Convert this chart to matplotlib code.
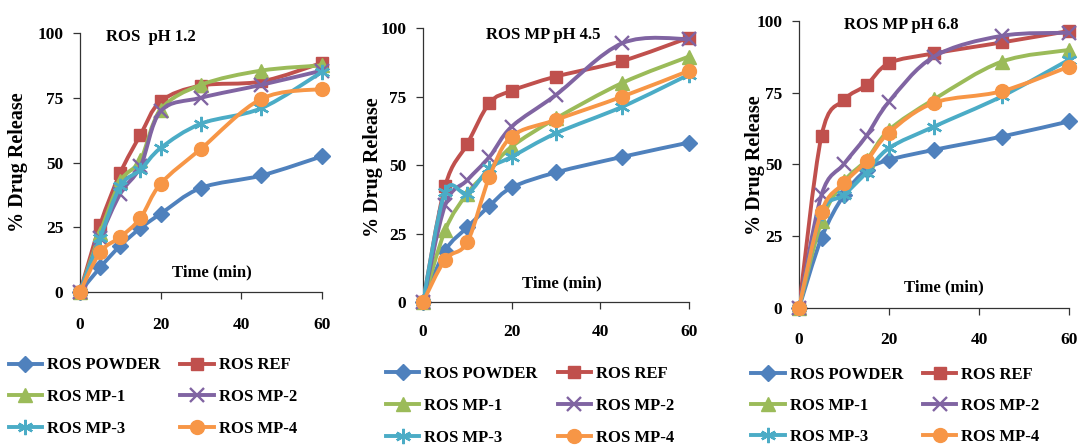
import numpy as np
import matplotlib.pyplot as plt
from matplotlib.path import Path
from matplotlib.patches import PathPatch
from matplotlib.lines import Line2D

plt.rcParams['font.family'] = ['Liberation Serif', 'DejaVu Serif']
plt.rcParams['font.weight'] = 'bold'

time_min = [0, 5, 10, 15, 20, 30, 45, 60]
series_names = ['ROS POWDER', 'ROS REF', 'ROS MP-1', 'ROS MP-2', 'ROS MP-3', 'ROS MP-4']

# pH 1.2
ph12_powder = [0, 9.5, 17.9, 24.7, 30.2, 40.2, 45.0, 52.4]
ph12_ref = [0, 26.0, 46.0, 60.7, 73.6, 79.7, 81.3, 88.5]
ph12_mp1 = [0, 22.8, 42.7, 51.0, 70.4, 80.0, 85.5, 87.5]
ph12_mp2 = [0, 21.0, 38.0, 48.5, 69.8, 75.0, 80.0, 85.5]
ph12_mp3 = [0, 21.0, 40.8, 47.2, 55.6, 65.0, 71.0, 85.0]
ph12_mp4 = [0, 15.4, 21.2, 28.6, 41.8, 55.3, 74.6, 78.4]

# pH 4.5
ph45_powder = [0, 18.7, 27.3, 35.1, 41.8, 47.3, 53.0, 58.2]
ph45_ref = [0, 42.3, 57.7, 72.6, 77.1, 82.3, 88.0, 96.5]
ph45_mp1 = [0, 26.2, 39.6, 48.2, 56.7, 67.0, 80.0, 89.6]
ph45_mp2 = [0, 35.4, 44.5, 53.0, 64.0, 75.6, 94.5, 96.0]
ph45_mp3 = [0, 40.2, 39.6, 48.8, 53.0, 61.6, 71.3, 83.0]
ph45_mp4 = [0, 15.5, 21.9, 45.7, 60.4, 66.5, 75.0, 84.4]

# pH 6.8
ph68_powder = [0, 24.4, 39.4, 48.1, 51.6, 55.1, 59.7, 65.0]
ph68_ref = [0, 60.0, 72.5, 77.7, 85.3, 88.7, 92.5, 96.5]
ph68_mp1 = [0, 30.2, 44.1, 51.6, 62.0, 72.7, 85.8, 89.9]
ph68_mp2 = [0, 39.4, 50.2, 60.0, 71.9, 87.6, 94.8, 95.9]
ph68_mp3 = [0, 33.0, 39.4, 47.2, 55.7, 63.2, 73.7, 86.5]
ph68_mp4 = [0, 33.6, 43.5, 51.2, 61.1, 71.5, 75.5, 84.1]

panel_titles = ['ROS  pH 1.2', 'ROS MP pH 4.5', 'ROS MP pH 6.8']
panel_data = [
    [ph12_powder, ph12_ref, ph12_mp1, ph12_mp2, ph12_mp3, ph12_mp4],
    [ph45_powder, ph45_ref, ph45_mp1, ph45_mp2, ph45_mp3, ph45_mp4],
    [ph68_powder, ph68_ref, ph68_mp1, ph68_mp2, ph68_mp3, ph68_mp4],
]

colors = ['#4F81BD', '#C0504D', '#9BBB59', '#8064A2', '#4BACC6', '#F79646']
markers = ['D', 's', '^', 'x', (6, 2, 0), 'o']
msizes = [8, 9, 9.5, 9.5, 11, 10]
mew = [1, 1, 1, 1.7, 1.7, 1]

axes_rects = [
    [0.0742, 0.3438, 0.2245, 0.582],
    [0.3924, 0.3213, 0.2467, 0.6157],
    [0.7412, 0.3079, 0.2505, 0.645],
]
title_pos = [(0.107, 0.985), (0.237, 0.974), (0.167, 0.986)]
time_pos = [(0.545, 0.077), (0.524, 0.069), (0.535, 0.073)]
ylabel_pos = [(18, 162), (373, 167), (755, 165)]
legend_pos = [(0.008, 0.197), (0.358, 0.177), (0.697, 0.176)]
legend_spacing = [0.95, 0.95, 0.9]
xtick_pad = [13, 11, 12]


def smooth_path(x, y):
    # bezier curve like excel's smoothed line
    x = np.asarray(x, float)
    y = np.asarray(y, float)
    verts = [(x[0], y[0])]
    codes = [Path.MOVETO]
    n = len(x)
    for i in range(n - 1):
        i0 = max(i - 1, 0)
        i3 = min(i + 2, n - 1)
        c1 = (x[i] + (x[i + 1] - x[i0]) / 6, y[i] + (y[i + 1] - y[i0]) / 6)
        c2 = (x[i + 1] - (x[i3] - x[i]) / 6, y[i + 1] - (y[i3] - y[i]) / 6)
        verts += [c1, c2, (x[i + 1], y[i + 1])]
        codes += [Path.CURVE4] * 3
    return Path(verts, codes)


fig = plt.figure(figsize=(10.78, 4.45), dpi=100)

for p in range(3):
    ax = fig.add_axes(axes_rects[p])
    for s in range(6):
        vals = panel_data[p][s]
        patch = PathPatch(smooth_path(time_min, vals), fill=False, edgecolor=colors[s],
                          lw=2.8, zorder=2 + s, capstyle='round', joinstyle='round')
        ax.add_patch(patch)
        ax.plot(time_min, vals, ls='none', marker=markers[s], ms=msizes[s], color=colors[s],
                mec=colors[s], mew=mew[s], zorder=2 + s, clip_on=False)
    ax.set_xlim(0, 60)
    ax.set_ylim(0, 100)
    ax.set_xticks([0, 20, 40, 60])
    ax.set_yticks([0, 25, 50, 75, 100])
    for side in ['top', 'right']:
        ax.spines[side].set_visible(False)
    for side in ['left', 'bottom']:
        ax.spines[side].set_color('#333333')
        ax.spines[side].set_linewidth(0.9)
    ax.tick_params(axis='x', length=5, width=0.9, color='#333333', pad=xtick_pad[p], labelsize=12.5)
    ax.tick_params(axis='y', length=5, width=0.9, color='#333333', pad=7, labelsize=12.5)
    for lab in ax.get_xticklabels() + ax.get_yticklabels():
        lab.set_fontweight('bold')
    ax.text(title_pos[p][0], title_pos[p][1], panel_titles[p], transform=ax.transAxes,
            ha='left', va='center', fontsize=12, fontweight='bold')
    ax.text(time_pos[p][0], time_pos[p][1], 'Time (min)', transform=ax.transAxes,
            ha='center', va='center', fontsize=12, fontweight='bold')
    fig.text(ylabel_pos[p][0] / 1078, 1 - ylabel_pos[p][1] / 445, '% Drug Release',
             rotation=90, ha='center', va='center', fontsize=14.5, fontweight='bold')

    handles = [Line2D([], [], color=colors[s], lw=2.8, marker=markers[s], ms=msizes[s],
                      mec=colors[s], mew=mew[s]) for s in range(6)]
    order = [0, 2, 4, 1, 3, 5]
    fig.legend([handles[i] for i in order], [series_names[i] for i in order],
               loc='upper left', bbox_to_anchor=legend_pos[p], ncol=2, frameon=False,
               prop={'family': 'Liberation Serif', 'weight': 'bold', 'size': 12},
               handlelength=2.0, handletextpad=0.3, columnspacing=1.2,
               labelspacing=legend_spacing[p], borderaxespad=0, borderpad=0)

fig.savefig('out.png', dpi=100)
